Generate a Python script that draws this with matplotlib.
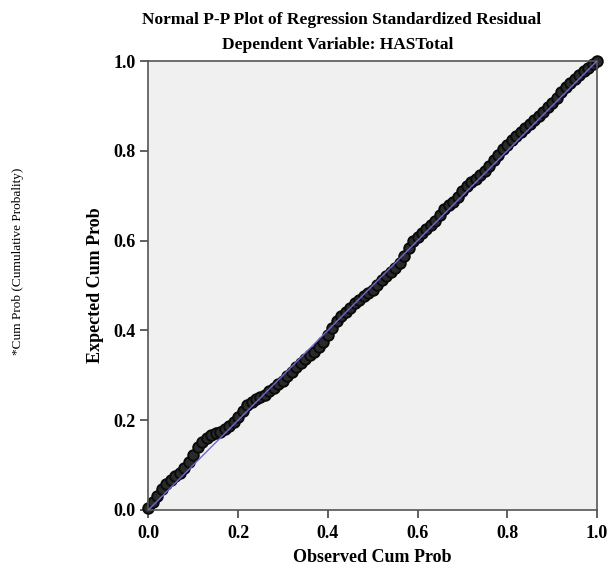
import matplotlib
matplotlib.use("Agg")
import matplotlib.pyplot as plt

# Data
observed_cum_prob = [
    0.00, 0.01, 0.02, 0.03, 0.04, 0.05, 0.06, 0.07, 0.08, 0.09,
    0.10, 0.11, 0.12, 0.13, 0.14, 0.15, 0.16, 0.17, 0.18, 0.19,
    0.20, 0.21, 0.22, 0.23, 0.24, 0.25, 0.26, 0.27, 0.28, 0.29,
    0.30, 0.31, 0.32, 0.33, 0.34, 0.35, 0.36, 0.37, 0.38, 0.39,
    0.40, 0.41, 0.42, 0.43, 0.44, 0.45, 0.46, 0.47, 0.48, 0.49,
    0.50, 0.51, 0.52, 0.53, 0.54, 0.55, 0.56, 0.57, 0.58, 0.59,
    0.60, 0.61, 0.62, 0.63, 0.64, 0.65, 0.66, 0.67, 0.68, 0.69,
    0.70, 0.71, 0.72, 0.73, 0.74, 0.75, 0.76, 0.77, 0.78, 0.79,
    0.80, 0.81, 0.82, 0.83, 0.84, 0.85, 0.86, 0.87, 0.88, 0.89,
    0.90, 0.91, 0.92, 0.93, 0.94, 0.95, 0.96, 0.97, 0.98, 0.99, 1.00,
]
expected_cum_prob = [
    0.004, 0.018, 0.032, 0.046, 0.058, 0.067, 0.075, 0.083, 0.093, 0.106,
    0.122, 0.140, 0.152, 0.160, 0.167, 0.171, 0.174, 0.180, 0.186, 0.196,
    0.207, 0.221, 0.234, 0.240, 0.247, 0.252, 0.256, 0.264, 0.272, 0.280,
    0.288, 0.298, 0.308, 0.318, 0.327, 0.336, 0.345, 0.353, 0.362, 0.375,
    0.390, 0.405, 0.420, 0.431, 0.440, 0.450, 0.460, 0.468, 0.477, 0.484,
    0.491, 0.501, 0.512, 0.521, 0.531, 0.540, 0.550, 0.566, 0.584, 0.598,
    0.609, 0.618, 0.626, 0.634, 0.644, 0.658, 0.671, 0.680, 0.687, 0.698,
    0.710, 0.721, 0.730, 0.737, 0.745, 0.754, 0.766, 0.779, 0.791, 0.803,
    0.814, 0.824, 0.833, 0.841, 0.850, 0.859, 0.868, 0.877, 0.886, 0.897,
    0.907, 0.918, 0.930, 0.941, 0.950, 0.959, 0.968, 0.977, 0.985, 0.994, 1.000,
]
ref_line = [0.0, 1.0]
tick_values = [0.0, 0.2, 0.4, 0.6, 0.8, 1.0]
tick_labels = ["0.0", "0.2", "0.4", "0.6", "0.8", "1.0"]

title = "Normal P-P Plot of Regression Standardized Residual"
subtitle = "Dependent Variable: HASTotal"
xlabel = "Observed Cum Prob"
ylabel = "Expected Cum Prob"
note = "*Cum Prob (Cumulative Probality)"

plt.rcParams['font.family'] = ['Liberation Serif', 'DejaVu Serif']

fig = plt.figure(figsize=(6.09, 5.67), dpi=100)
ax = fig.add_axes([148.3 / 609, 1 - 510 / 567, 448.7 / 609, 449 / 567])
ax.set_facecolor('#f0f0f0')

ax.plot(observed_cum_prob, expected_cum_prob, linestyle='none', marker='o',
        markersize=7.6, markerfacecolor='#2a2a2a', markeredgecolor='#0a0a0a',
        markeredgewidth=1.4, zorder=2, clip_on=False)
ax.plot(ref_line, ref_line, color='#6a6ad8', linewidth=1.0, zorder=3)

ax.set_xlim(0, 1)
ax.set_ylim(0, 1)
ax.set_xticks(tick_values)
ax.set_xticklabels(tick_labels)
ax.set_yticks(tick_values)
ax.set_yticklabels(tick_labels)
ax.tick_params(direction='out', length=6, width=1.2, color='#444444',
               labelsize=13)
ax.tick_params(axis='x', pad=5)
ax.tick_params(axis='y', pad=3)
for lab in ax.get_xticklabels() + ax.get_yticklabels():
    lab.set_fontweight('bold')
for sp in ax.spines.values():
    sp.set_color('#555555')
    sp.set_linewidth(1.2)

fig.text(372.6 / 609, 1 - 562 / 567, xlabel, ha='center', va='baseline',
         fontsize=13, fontweight='bold')
fig.text(95 / 609, 1 - 285.5 / 567, ylabel, ha='center', va='center',
         rotation=90, fontsize=13, fontweight='bold')

fig.text(342 / 609, 1 - 20 / 567, title, ha='center', va='center',
         fontsize=12.5, fontweight='bold')
fig.text(338 / 609, 1 - 45 / 567, subtitle, ha='center', va='center',
         fontsize=12.5, fontweight='bold')
fig.text(18 / 609, 1 - 261 / 567, note, ha='center', va='center',
         rotation=90, fontsize=9.5)

fig.savefig("out.png", dpi=100)
